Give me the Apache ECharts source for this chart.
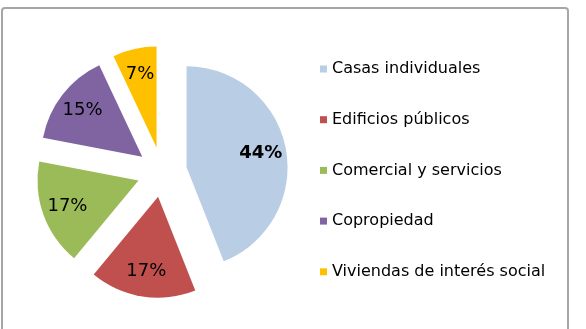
<!DOCTYPE html>
<html>
<head>
<meta charset="utf-8">
<script src="https://cdn.jsdelivr.net/npm/echarts@6/dist/echarts.min.js"></script>
<style>
  html, body { margin: 0; padding: 0; background: #fff; }
  #chart { width: 586px; height: 329px; }
</style>
</head>
<body>
<div id="chart"></div>
<script>
// datos del gráfico
var categorias = ['Casas individuales', 'Edificios públicos', 'Comercial y servicios', 'Copropiedad', 'Viviendas de interés social'];
var valores = [44, 17, 17, 15, 7];
var colores = ['#b9cde5', '#c0504d', '#9bbb59', '#8064a2', '#ffc000'];

var chart = echarts.init(document.getElementById('chart'));

var centro = [162, 172];
var radio = 101;
var separacion = 25;

// serie principal (las porciones)
var datosPie = categorias.map(function (n, i) {
  return { name: n, value: valores[i], selected: true, itemStyle: { color: colores[i] } };
});
// serie transparente solo para las etiquetas (más hacia afuera)
var datosEtiquetas = categorias.map(function (n, i) {
  return {
    name: n, value: valores[i], selected: true,
    label: { fontWeight: i === 0 ? 'bold' : 'normal' }
  };
});

var option = {
  backgroundColor: '#fff',
  animation: false,
  graphic: [{
    type: 'rect',
    shape: { x: 2, y: 8, width: 566, height: 340, r: 3 },
    style: { fill: 'none', stroke: '#a6a6a6', lineWidth: 2 },
    silent: true
  }],
  legend: {
    orient: 'vertical',
    left: 315,
    top: 54,
    icon: 'rect',
    itemWidth: 7,
    itemHeight: 7,
    itemGap: 30.7,
    selectedMode: false,
    data: categorias,
    textStyle: { fontFamily: 'Verdana, DejaVu Sans', fontSize: 16, color: '#000', lineHeight: 20 }
  },
  series: [
    {
      type: 'pie',
      center: centro,
      radius: radio,
      startAngle: 90,
      selectedMode: 'multiple',
      selectedOffset: separacion,
      label: { show: false },
      labelLine: { show: false },
      emphasis: { disabled: true },
      silent: true,
      data: datosPie
    },
    {
      type: 'pie',
      center: centro,
      radius: [44, radio],
      startAngle: 90,
      selectedMode: 'multiple',
      selectedOffset: separacion,
      itemStyle: { color: 'rgba(0,0,0,0)' },
      label: {
        show: true,
        position: 'inside',
        formatter: '{c}%',
        fontFamily: 'Verdana, DejaVu Sans',
        fontSize: 18,
        color: '#000'
      },
      labelLine: { show: false },
      emphasis: { disabled: true },
      silent: true,
      data: datosEtiquetas
    }
  ]
};

chart.setOption(option);
</script>
</body>
</html>
